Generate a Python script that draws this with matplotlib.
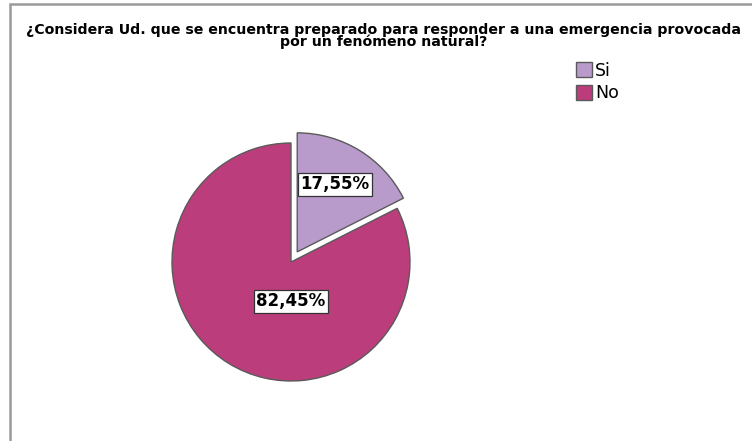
import matplotlib.pyplot as plt
from matplotlib.patches import Rectangle

plt.rcParams['font.family'] = ['DejaVu Sans']

#------------------datos--------------------
categorias = ['Si', 'No']
porcentajes = [17.55, 82.45]
colores = ['#b89bcb', '#bc3d7b']
etiquetas = ['17,55%', '82,45%']
titulo = "¿Considera Ud. que se encuentra preparado para responder a una emergencia provocada\npor un fenómeno natural?"
#--------------------------------------------

W, H = 752, 441
fig = plt.figure(figsize=(W / 100, H / 100), dpi=100)

# marco gris (recortado a la derecha y abajo)
fig.patches.append(Rectangle((10 / W, -0.1), 1.2, 1 - 4 / H + 0.1, transform=fig.transFigure,
                             fill=False, edgecolor='#9a9a9a', linewidth=1.8))

fig.text(384 / W, 1 - 23 / H, titulo, ha='center', va='top', fontsize=10.2,
         fontweight='bold', linespacing=0.82)

cx, cy, r = 291, 262, 119
ax = fig.add_axes([(cx - r) / W, (H - cy - r) / H, 2 * r / W, 2 * r / H])

wedges, textos = ax.pie(porcentajes, colors=colores, startangle=90, counterclock=False,
                        explode=[0.1, 0], radius=1,
                        wedgeprops=dict(edgecolor='#5a5a5a', linewidth=1.0))
ax.set_xlim(-1, 1)
ax.set_ylim(-1, 1)
for w in wedges:
    w.set_clip_on(False)

pos = [(0.37, 0.655), (0.0, -0.33)]
for et, (x, y) in zip(etiquetas, pos):
    ax.text(x, y, et, ha='center', va='center', fontsize=12, fontweight='bold',
            bbox=dict(boxstyle='square,pad=0.15', facecolor='white', edgecolor='#333333', linewidth=0.9))

leg = fig.legend(wedges, categorias, loc='upper left', bbox_to_anchor=(567 / W, 1 - 53 / H),
                 frameon=False, fontsize=12.5, handlelength=0.95, handleheight=0.95,
                 handletextpad=0.15, labelspacing=0.25, borderpad=0)

plt.savefig('out.png', dpi=100)
